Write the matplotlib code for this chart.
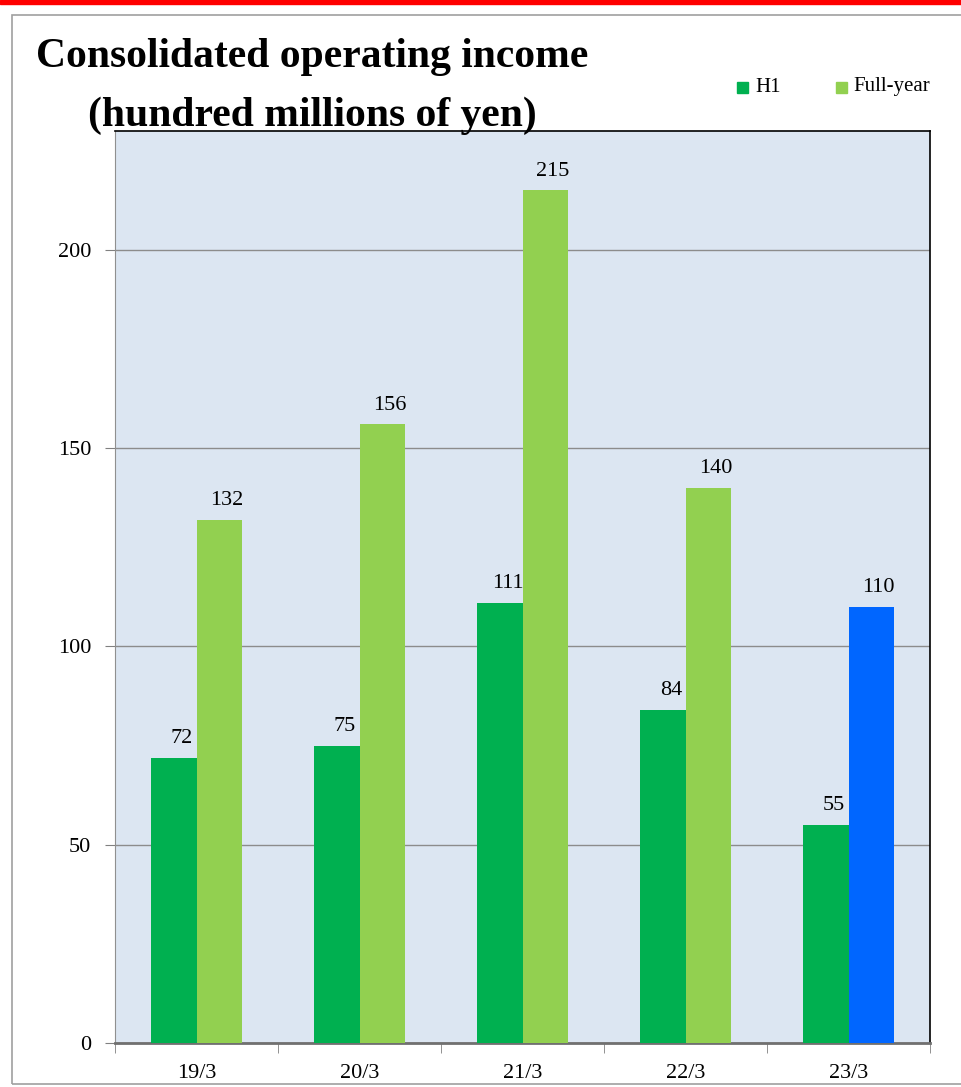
import numpy as np
import matplotlib.pyplot as plt
from matplotlib.patches import Rectangle

periods = ["19/3", "20/3", "21/3", "22/3", "23/3"]
h1 = [72, 75, 111, 84, 55]
full_year = [132, 156, 215, 140, 110]
full_colors = ["#92D050", "#92D050", "#92D050", "#92D050", "#0066FF"]
yticks = [0, 50, 100, 150, 200]

plt.rcParams['font.family'] = ['Liberation Serif', 'DejaVu Serif']

fig = plt.figure(figsize=(9.62, 10.87), dpi=100)
W, H = 962, 1087

# red strip on top and gray outer frame
fig.patches.append(Rectangle((0, 1 - 4 / H), 1, 4 / H, transform=fig.transFigure,
                             color="#FF0000", zorder=0))
fig.patches.append(Rectangle((12 / W, 3 / H), 1.0, (1087 - 18) / H, transform=fig.transFigure,
                             fill=False, edgecolor="#A0A0A0", linewidth=1.2, zorder=0))

ax = fig.add_axes([115 / W, 1 - 1043 / H, (930 - 115) / W, (1043 - 131) / H])
ax.set_facecolor("#DCE6F2")

x = np.arange(len(periods))
bw = 0.282
ax.bar(x - bw / 2, h1, bw, color="#00B050", zorder=3)
ax.bar(x + bw / 2, full_year, bw, color=full_colors, zorder=3)

for xi, v in zip(x, h1):
    ax.annotate(str(v), (xi - bw / 2, v), xytext=(6, 7), textcoords="offset points",
                ha="center", va="bottom", fontsize=16)
for xi, v in zip(x, full_year):
    ax.annotate(str(v), (xi + bw / 2, v), xytext=(5, 7), textcoords="offset points",
                ha="center", va="bottom", fontsize=16)

ax.set_xlim(-0.5, len(periods) - 0.5)
ax.set_ylim(0, 230)
ax.set_yticks(yticks)
ax.set_yticklabels([str(t) for t in yticks], fontsize=16)
ax.yaxis.grid(True, color="#8C8C8C", linewidth=1, zorder=1)
ax.set_axisbelow(True)

ax.set_xticks(x)
ax.set_xticklabels(periods, fontsize=16)
ax.set_xticks(np.arange(-0.5, len(periods)), minor=True)
ax.tick_params(axis="x", which="major", length=0, pad=15)
ax.tick_params(axis="x", which="minor", length=7, color="#808080", direction="out")
ax.tick_params(axis="y", length=7, color="#808080", pad=10)

ax.spines["left"].set_color("#909090")
ax.spines["bottom"].set_color("#707070")
ax.spines["bottom"].set_linewidth(2)
ax.spines["top"].set_color("black")
ax.spines["right"].set_color("black")
ax.spines["top"].set_linewidth(1.2)
ax.spines["right"].set_linewidth(1.2)

fig.text(312 / W, 1 - 57 / H, "Consolidated operating income", ha="center", va="center",
         fontsize=30, fontweight="bold")
fig.text(312 / W, 1 - 116 / H, "(hundred millions of yen)", ha="center", va="center",
         fontsize=30, fontweight="bold")

# legend
fig.patches.append(Rectangle((737 / W, 1 - 93 / H), 11 / W, 11 / H, transform=fig.transFigure,
                             color="#00B050"))
fig.text(755 / W, 1 - 87 / H, "H1", ha="left", va="center", fontsize=15)
fig.patches.append(Rectangle((836 / W, 1 - 93 / H), 11 / W, 11 / H, transform=fig.transFigure,
                             color="#92D050"))
fig.text(853 / W, 1 - 87 / H, "Full-year", ha="left", va="center", fontsize=15)

fig.savefig("out.png", dpi=100)
